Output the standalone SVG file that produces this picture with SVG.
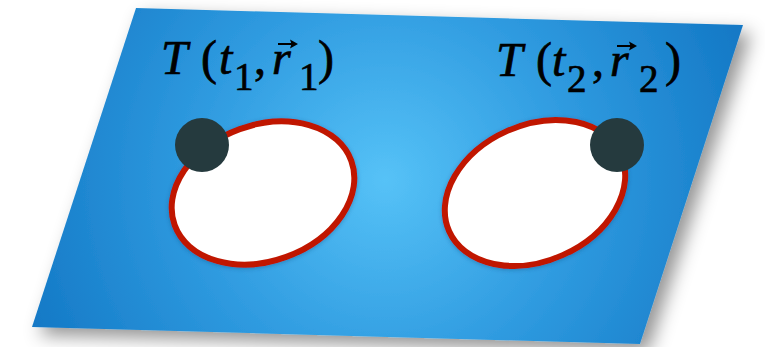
<svg xmlns="http://www.w3.org/2000/svg" width="765" height="347" viewBox="0 0 765 347">
  <defs>
    <radialGradient id="planeGrad" gradientUnits="userSpaceOnUse" cx="385" cy="180" r="380">
      <stop offset="0" stop-color="#56c2f7"/>
      <stop offset="0.5" stop-color="#2f9be0"/>
      <stop offset="1" stop-color="#1479c6"/>
    </radialGradient>
    <filter id="planeShadow" x="-10%" y="-10%" width="125%" height="130%">
      <feDropShadow dx="8" dy="8" stdDeviation="9" flood-color="#000" flood-opacity="0.42"/>
    </filter>
    <filter id="soft" x="-20%" y="-20%" width="140%" height="140%">
      <feDropShadow dx="0" dy="1" stdDeviation="2" flood-color="#0b3a66" flood-opacity="0.35"/>
    </filter>
    <style>
      .loop { fill: #ffffff; stroke: #c01800; stroke-width: 6; }
      .dot { fill: #253a3e; }
      text { font-family: "Liberation Serif", "Times New Roman", "DejaVu Serif", serif; fill: #000; stroke: #000; stroke-width: 0.7; font-size: 48px; }
      .it { font-style: italic; }
      .sub { font-size: 39px; }
      .vec { fill: none; stroke: #000; stroke-width: 2; }
      .vechead { fill: #000; stroke: none; }
    </style>
  </defs>

  <g id="plane">
    <polygon points="136,8 743,25 640,344 32,327" fill="url(#planeGrad)" filter="url(#planeShadow)"/>
  </g>

  <g id="loop1" filter="url(#soft)">
    <ellipse class="loop" cx="263" cy="193" rx="94" ry="68" transform="rotate(-20 263 193)"/>
  </g>
  <g id="loop2" filter="url(#soft)">
    <ellipse class="loop" cx="535" cy="193" rx="94" ry="68" transform="rotate(-24 535 193)"/>
  </g>

  <g id="point1">
    <circle class="dot" cx="202" cy="145" r="27"/>
  </g>
  <g id="point2">
    <circle class="dot" cx="617" cy="145" r="27"/>
  </g>

  <g id="label1">
    <text x="161" y="74"><tspan class="it">T</tspan><tspan x="201">(</tspan><tspan class="it" x="219">t</tspan><tspan class="sub" x="234" y="90">1</tspan><tspan x="254" y="74">,</tspan><tspan class="it" x="272">r</tspan><tspan class="sub" x="299" y="90">1</tspan><tspan x="318" y="74">)</tspan></text>
    <path class="vec" d="M278,44 L294,44"/>
    <path class="vechead" d="M298,44 L290,39.5 L291.5,44 L290,48.5 Z"/>
  </g>

  <g id="label2">
    <text x="496" y="76"><tspan class="it">T</tspan><tspan x="536">(</tspan><tspan class="it" x="552">t</tspan><tspan class="sub" x="567" y="92">2</tspan><tspan x="592" y="76">,</tspan><tspan class="it" x="610">r</tspan><tspan class="sub" x="639" y="92">2</tspan><tspan x="665" y="76">)</tspan></text>
    <path class="vec" d="M617,46 L633,46"/>
    <path class="vechead" d="M637,46 L629,41.5 L630.5,46 L629,50.5 Z"/>
  </g>
</svg>
